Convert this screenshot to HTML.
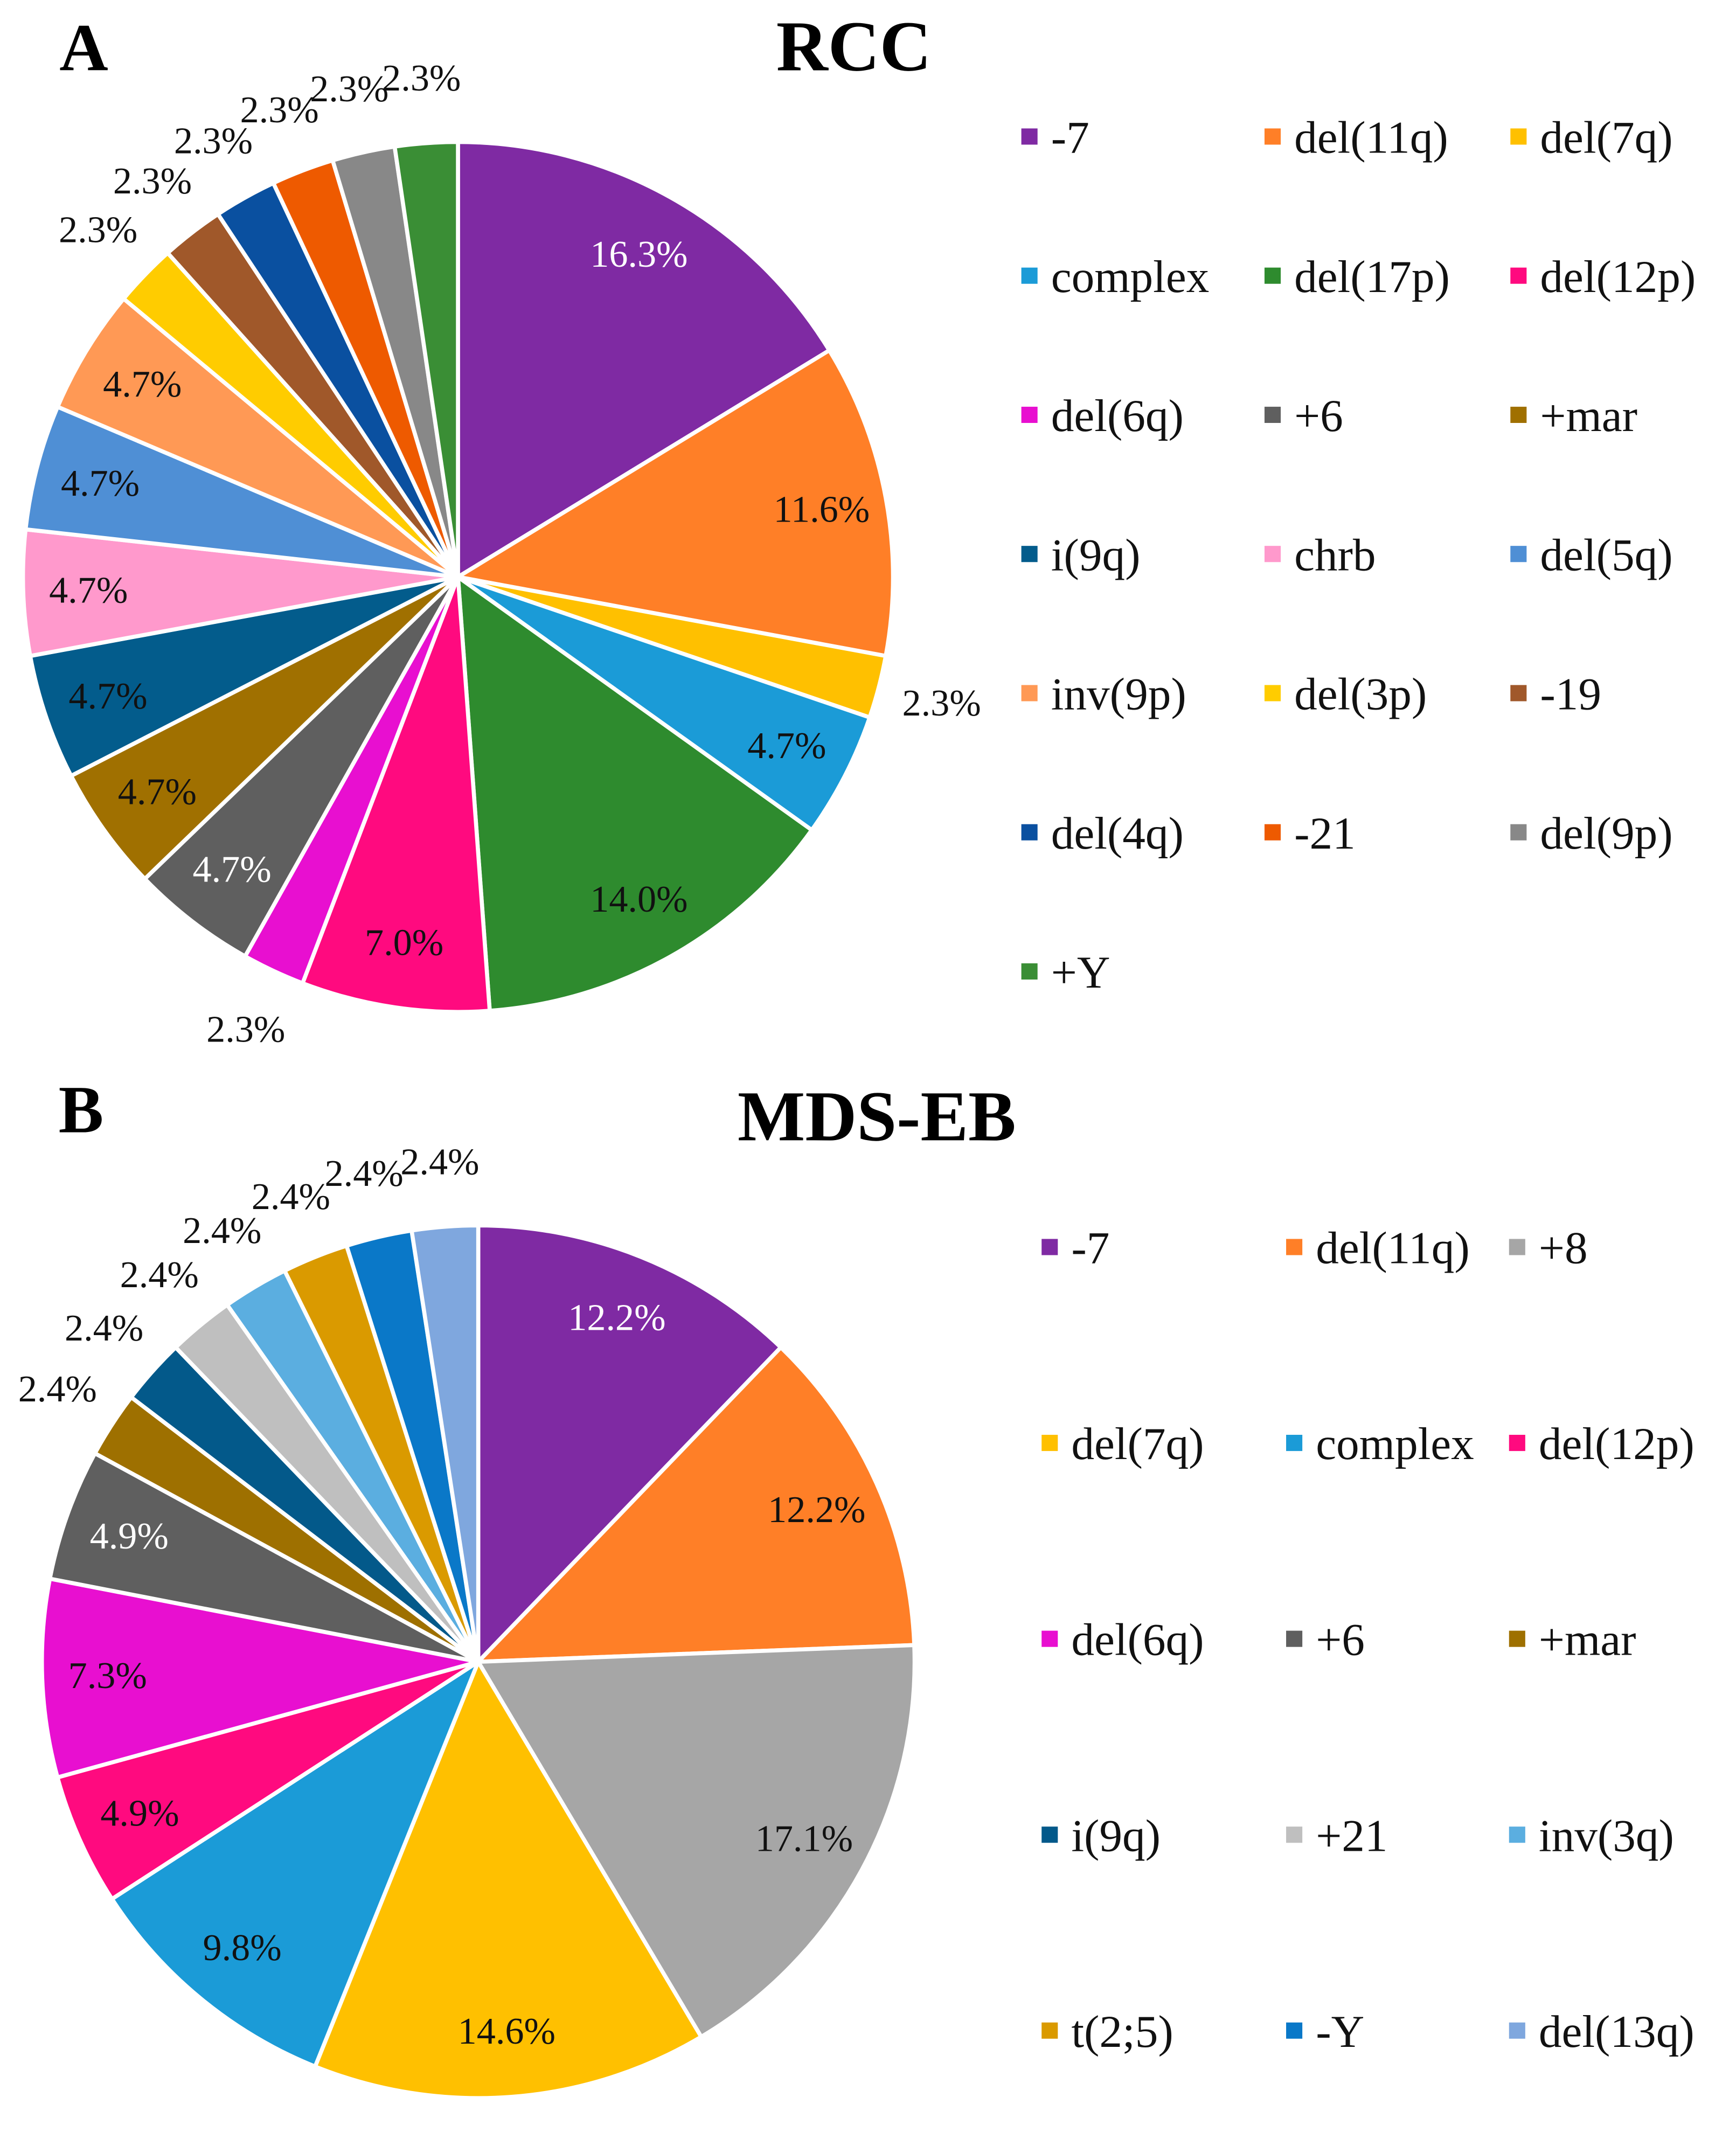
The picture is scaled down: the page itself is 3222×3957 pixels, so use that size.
<!DOCTYPE html>
<html><head><meta charset="utf-8"><style>
html,body{margin:0;padding:0;background:#fff;}
svg{display:block;}
text{font-family:"Liberation Serif",serif;}
</style></head><body>
<svg id="chart" width="3222" height="3957" viewBox="0 0 1285 1578" xmlns="http://www.w3.org/2000/svg">
<rect width="1285" height="1578" fill="#fff"/>
<text x="62" y="52" font-size="50" font-weight="bold" text-anchor="middle">A</text>
<text x="632" y="52" font-size="53" font-weight="bold" text-anchor="middle">RCC</text>
<text x="60" y="838" font-size="50" font-weight="bold" text-anchor="middle">B</text>
<text x="649" y="844" font-size="53" font-weight="bold" text-anchor="middle">MDS-EB</text>
<g id="pieA"></g>
<g id="legA"></g>
<g id="pieB"></g>
<g id="legB"></g>
</svg>
<script>
const catsA = ["-7","del(11q)","del(7q)","complex","del(17p)","del(12p)","del(6q)","+6","+mar","i(9q)","chrb","del(5q)","inv(9p)","del(3p)","-19","del(4q)","-21","del(9p)","+Y"];
const valsA = [7,5,1,2,6,3,1,2,2,2,2,2,2,1,1,1,1,1,1];
const labelsA = ["16.3%","11.6%","2.3%","4.7%","14.0%","7.0%","2.3%","4.7%","4.7%","4.7%","4.7%","4.7%","4.7%","2.3%","2.3%","2.3%","2.3%","2.3%","2.3%"];
const colorsA = ["#7F2AA3","#FF7F27","#FFC000","#1B9BD7","#2E8B2E","#FF0A7F","#E80FD0","#5F5F5F","#A07000","#035C8C","#FF99CC","#4F8FD5","#FF9955","#FFCC00","#A0582A","#0A50A0","#EE5A00","#888888","#3A8E35"];
const whiteA = ["-7","+6"];
const catsB = ["-7","del(11q)","+8","del(7q)","complex","del(12p)","del(6q)","+6","+mar","i(9q)","+21","inv(3q)","t(2;5)","-Y","del(13q)"];
const valsB = [5,5,7,6,4,2,3,2,1,1,1,1,1,1,1];
const labelsB = ["12.2%","12.2%","17.1%","14.6%","9.8%","4.9%","7.3%","4.9%","2.4%","2.4%","2.4%","2.4%","2.4%","2.4%","2.4%"];
const colorsB = ["#7F2AA3","#FF7F27","#A6A6A6","#FFC000","#1B9BD7","#FF0A7F","#E80FD0","#5F5F5F","#9E7000","#03598A","#BFBFBF","#5BAEE0","#DA9A00","#0A78C8","#7FA7DE"];
const whiteB = ["-7","+6"];
const NS="http://www.w3.org/2000/svg";
function pie(gid,cats,vals,cols,labs,white,cx,cy,r){
  const g=document.getElementById(gid);
  const tot=vals.reduce((a,b)=>a+b,0);
  let a0=0;
  vals.forEach((v,i)=>{
    const a1=a0+v/tot*2*Math.PI;
    const p=(a)=>[cx+r*Math.sin(a),cy-r*Math.cos(a)];
    const s=p(a0),e=p(a1);
    const path=document.createElementNS(NS,"path");
    path.setAttribute("d",`M${cx},${cy}L${s[0]},${s[1]}A${r},${r} 0 ${a1-a0>Math.PI?1:0} 1 ${e[0]},${e[1]}Z`);
    path.setAttribute("fill",cols[i]);path.setAttribute("stroke","#fff");path.setAttribute("stroke-width","3");
    
    
    g.appendChild(path);
    const am=(a0+a1)/2, small=v/tot<0.04;
    const rr=small? r+48 : r*0.85;
    const t=document.createElementNS(NS,"text");
    t.setAttribute("x",cx+rr*Math.sin(am));t.setAttribute("y",cy-rr*Math.cos(am)+9);
    t.setAttribute("text-anchor","middle");t.setAttribute("font-size","28");
    t.setAttribute("fill",(!small&&white.includes(cats[i]))?"#fff":"#111");
    t.textContent=labs[i];
    
    
    g.appendChild(t);
    a0=a1;
  });
}
function legend(gid,cats,cols,xs,y0,dy){
  const g=document.getElementById(gid);
  cats.forEach((c,i)=>{
    const x=xs[i%3],y=y0+Math.floor(i/3)*dy;
    const rc=document.createElementNS(NS,"rect");
    rc.setAttribute("x",x-6);rc.setAttribute("y",y-6);rc.setAttribute("width",12);rc.setAttribute("height",12);rc.setAttribute("fill",cols[i]);
    
    
    g.appendChild(rc);
    const t=document.createElementNS(NS,"text");
    t.setAttribute("x",x+16);t.setAttribute("y",y+12);t.setAttribute("font-size","34");t.setAttribute("fill","#111");
    t.textContent=c;
    
    
    g.appendChild(t);
  });
}
pie("pieA",catsA,valsA,colorsA,labelsA,whiteA,339,427,322);
pie("pieB",catsB,valsB,colorsB,labelsB,whiteB,354,1230,323);
legend("legA",catsA,colorsA,[762,942,1124],101,103);
legend("legB",catsB,colorsB,[777,958,1123],923,145);
</script>
</body></html>
